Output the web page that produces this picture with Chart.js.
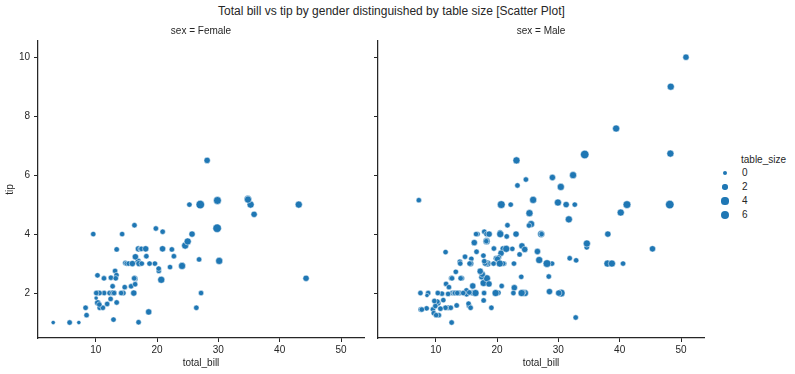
<!DOCTYPE html>
<html lang="en">

<head>
    <meta charset="UTF-8">
    <title>Total bill vs tip by gender</title>
    <script src="https://cdn.jsdelivr.net/npm/chart.js"></script>
    <style>
        body {
            margin: 0;
            background: #fff;
            font-family: "Liberation Sans", Arial, sans-serif;
            color: #262626;
        }

        #wrap {
            position: relative;
            width: 795px;
            height: 374px;
            overflow: hidden;
        }

        canvas {
            position: absolute;
            top: 0;
        }

        #suptitle {
            position: absolute;
            left: 218px;
            top: 4px;
            font-size: 12px;
            line-height: 14px;
            white-space: nowrap;
        }

        .legend-text {
            position: absolute;
            font-size: 10px;
            line-height: 12px;
            white-space: nowrap;
        }

        .legend-dot {
            position: absolute;
            border-radius: 50%;
            background: #1f77b4;
        }
    </style>
</head>

<body>
    <div id="wrap">
        <div id="suptitle">Total bill vs tip by gender distinguished by table size [Scatter Plot]</div>
        <canvas id="femaleChart" width="370" height="374" style="left:0px"></canvas>
        <canvas id="maleChart" width="370" height="374" style="left:340px"></canvas>
        <div id="legend"></div>
    </div>

    <script>
        // tips data, split by sex
        const femaleBill = [16.99, 24.59, 35.26, 14.83, 10.33, 16.97, 20.29, 15.77, 19.65, 15.06, 20.69, 16.93, 10.29, 34.81, 26.41, 16.45, 3.07, 17.07, 26.86, 25.28, 14.73, 10.07, 34.83, 5.75, 16.32, 22.75, 11.35, 15.38, 44.30, 22.42, 20.92, 14.31, 7.25, 25.71, 17.31, 10.65, 12.43, 24.08, 13.42, 12.48, 29.80, 14.52, 11.38, 20.27, 11.17, 12.26, 18.26, 8.51, 10.33, 14.15, 13.16, 17.47, 27.05, 16.43, 8.35, 18.64, 11.87, 29.85, 25.00, 13.39, 16.21, 17.51, 10.59, 10.63, 9.60, 20.90, 18.15, 19.81, 43.11, 13.00, 12.74, 13.00, 16.40, 16.47, 12.76, 13.27, 28.17, 12.90, 30.14, 13.42, 15.98, 16.27, 10.09, 22.12, 35.83, 27.18, 18.78];
        const femaleTip = [1.01, 3.61, 5.00, 3.02, 1.67, 3.50, 2.75, 2.23, 3.00, 3.00, 2.45, 3.07, 2.60, 5.20, 1.50, 2.47, 1.00, 3.00, 3.14, 5.00, 2.20, 1.83, 5.17, 1.00, 4.30, 3.25, 2.50, 3.00, 2.50, 3.48, 4.08, 4.00, 1.00, 4.00, 3.50, 1.50, 1.80, 2.92, 1.68, 2.52, 4.20, 2.00, 2.00, 2.83, 1.50, 2.00, 3.25, 1.25, 2.00, 2.00, 2.75, 3.50, 5.00, 2.30, 1.50, 1.36, 1.63, 5.14, 3.75, 2.61, 2.00, 3.00, 1.61, 2.00, 4.00, 3.50, 3.50, 4.19, 5.00, 2.00, 2.01, 2.00, 2.50, 3.23, 2.23, 2.50, 6.50, 1.10, 3.09, 3.48, 3.00, 2.50, 2.00, 2.88, 4.67, 2.00, 3.00];
        const femaleSize = [2, 4, 4, 2, 3, 3, 2, 2, 2, 2, 4, 3, 2, 4, 2, 2, 1, 3, 2, 2, 2, 1, 4, 2, 2, 2, 2, 2, 3, 2, 2, 2, 1, 3, 2, 2, 2, 4, 2, 2, 6, 2, 2, 2, 2, 2, 2, 2, 2, 2, 2, 2, 6, 2, 2, 3, 2, 5, 4, 2, 3, 2, 2, 2, 2, 3, 3, 2, 4, 2, 2, 2, 2, 3, 2, 2, 3, 2, 4, 2, 3, 2, 2, 2, 3, 2, 2];

        const maleBill = [10.34, 21.01, 23.68, 25.29, 8.77, 26.88, 15.04, 14.78, 10.27, 15.42, 18.43, 21.58, 16.29, 20.65, 17.92, 39.42, 19.82, 17.81, 13.37, 12.69, 21.70, 9.55, 18.35, 17.78, 24.06, 16.31, 18.69, 31.27, 16.04, 17.46, 13.94, 9.68, 30.40, 18.29, 22.23, 32.40, 28.55, 18.04, 12.54, 9.94, 25.56, 19.49, 38.01, 11.24, 48.27, 20.29, 13.81, 11.02, 18.29, 17.59, 20.08, 20.23, 15.01, 12.02, 10.51, 17.92, 27.20, 22.76, 17.29, 19.44, 16.66, 32.68, 15.98, 13.03, 18.28, 24.71, 21.16, 28.97, 22.49, 40.17, 27.28, 12.03, 21.01, 12.46, 15.36, 20.49, 25.21, 18.24, 14.00, 38.07, 23.95, 29.93, 11.69, 14.26, 15.95, 8.52, 22.82, 19.08, 16.00, 34.30, 41.19, 9.78, 7.51, 14.07, 13.13, 17.26, 24.55, 19.77, 48.17, 16.49, 21.50, 12.66, 13.81, 24.52, 20.76, 31.71, 50.81, 15.81, 7.25, 31.85, 16.82, 32.90, 17.89, 14.48, 34.63, 34.65, 23.33, 45.35, 23.17, 40.55, 20.69, 30.46, 23.10, 15.69, 28.44, 15.48, 16.58, 7.56, 10.34, 13.51, 18.71, 20.53, 26.59, 38.73, 24.27, 30.06, 25.89, 48.33, 28.15, 11.59, 7.74, 12.16, 8.58, 13.42, 20.45, 13.28, 24.01, 15.69, 11.61, 10.77, 15.53, 10.07, 12.60, 32.83, 29.03, 22.67, 17.82];
        const maleTip = [1.66, 3.50, 3.31, 4.71, 2.00, 3.12, 1.96, 3.23, 1.71, 1.57, 3.00, 3.92, 3.71, 3.35, 4.08, 7.58, 3.18, 2.34, 2.00, 2.00, 4.30, 1.45, 2.50, 3.27, 3.60, 2.00, 2.31, 5.00, 2.24, 2.54, 3.06, 1.32, 5.60, 3.00, 5.00, 6.00, 2.05, 3.00, 2.50, 1.56, 4.34, 3.51, 3.00, 1.76, 6.73, 3.21, 2.00, 1.98, 3.76, 2.64, 3.15, 2.01, 2.09, 1.97, 1.25, 3.08, 4.00, 3.00, 2.71, 3.00, 3.40, 5.00, 2.03, 2.00, 4.00, 5.85, 3.00, 3.00, 3.50, 4.73, 4.00, 1.50, 3.00, 1.50, 1.64, 4.06, 4.29, 3.76, 3.00, 4.00, 2.55, 5.07, 2.31, 2.50, 2.00, 1.48, 2.18, 1.50, 2.00, 6.70, 5.00, 1.73, 2.00, 2.50, 2.00, 2.74, 2.00, 2.00, 5.00, 2.00, 3.50, 2.50, 2.00, 3.48, 2.24, 4.50, 10.00, 3.16, 5.15, 3.18, 4.00, 3.11, 2.00, 2.00, 3.55, 3.68, 5.65, 3.50, 6.50, 3.00, 5.00, 2.00, 4.00, 1.50, 2.56, 2.02, 4.00, 1.44, 2.00, 2.00, 4.00, 4.00, 3.41, 3.00, 2.03, 2.00, 5.16, 9.00, 3.00, 1.50, 1.44, 2.20, 1.92, 1.58, 3.00, 2.72, 2.00, 3.00, 3.39, 1.47, 3.00, 1.25, 1.00, 1.17, 5.92, 2.00, 1.75];
        const maleSize = [3, 3, 2, 4, 2, 4, 2, 2, 2, 2, 4, 2, 3, 3, 2, 4, 2, 4, 2, 2, 2, 2, 4, 2, 3, 3, 3, 3, 3, 2, 2, 2, 4, 2, 2, 4, 3, 2, 2, 2, 4, 2, 4, 2, 4, 2, 2, 2, 4, 3, 3, 2, 2, 2, 2, 2, 4, 2, 2, 2, 2, 2, 2, 2, 2, 2, 2, 2, 2, 4, 2, 2, 2, 2, 2, 2, 2, 2, 2, 3, 2, 4, 2, 2, 2, 2, 3, 2, 2, 6, 5, 2, 2, 2, 2, 3, 4, 4, 6, 4, 4, 2, 2, 3, 2, 4, 3, 2, 2, 2, 2, 2, 2, 2, 2, 4, 2, 3, 4, 2, 5, 5, 3, 2, 2, 2, 2, 2, 2, 2, 3, 4, 3, 4, 2, 3, 4, 4, 5, 2, 2, 2, 1, 2, 4, 2, 4, 3, 2, 2, 2, 2, 2, 2, 3, 2, 2];

        const xTicks = [10, 20, 30, 40, 50];
        const yTicks = [2, 4, 6, 8, 10];
        const legendSizes = [0, 2, 4, 6];

        const xMin = 0.59, xMax = 53.75;
        const yMin = 0.475, yMax = 10.55;

        const pointColor = '#1f77b4';
        const textColor = '#262626';
        const fontFamily = '"Liberation Sans", Arial, sans-serif';

        // seaborn-like size mapping: marker area grows linearly with table size
        function markerRadius(size) {
            const s = Math.max(size, 1);
            const area = 18 + (s - 1) / 5 * 54;
            return Math.sqrt(area) / 2;
        }

        function toPoints(xs, ys) {
            return xs.map((x, i) => ({ x: x, y: ys[i] }));
        }

        function panelOptions(title, sizes, isFirst) {
            const font = { family: fontFamily, size: 10 };
            return {
                responsive: false,
                animation: false,
                layout: { padding: { top: 25, right: 6, bottom: 0, left: 0 } },
                elements: {
                    point: {
                        radius: ctx => markerRadius(sizes[ctx.dataIndex]),
                        backgroundColor: pointColor,
                        borderColor: '#ffffff',
                        borderWidth: 0.5
                    }
                },
                plugins: {
                    legend: { display: false },
                    tooltip: { enabled: false },
                    title: {
                        display: true,
                        text: title,
                        fullSize: false,
                        color: textColor,
                        font: { family: fontFamily, size: 10, weight: 'normal' },
                        padding: { top: 0, bottom: 4 }
                    }
                },
                scales: {
                    x: {
                        type: 'linear',
                        min: xMin,
                        max: xMax,
                        afterBuildTicks: s => { s.ticks = xTicks.map(v => ({ value: v })); },
                        afterFit: s => { s.height = 36; },
                        grid: { drawOnChartArea: false, drawTicks: true, tickLength: 4, tickColor: textColor, tickWidth: 1 },
                        border: { color: textColor, width: 1.25 },
                        ticks: { color: textColor, font: font, padding: 2, maxRotation: 0, autoSkip: false },
                        title: { display: true, text: 'total_bill', color: textColor, font: font, padding: { top: 0, bottom: 5 } }
                    },
                    y: {
                        type: 'linear',
                        min: yMin,
                        max: yMax,
                        afterBuildTicks: s => { s.ticks = yTicks.map(v => ({ value: v })); },
                        afterFit: s => { s.width = 38; },
                        grid: { drawOnChartArea: false, drawTicks: true, tickLength: 4, tickColor: textColor, tickWidth: 1 },
                        border: { color: textColor, width: 1.25 },
                        ticks: {
                            color: textColor, font: font, padding: 4, autoSkip: false,
                            callback: v => isFirst ? String(v) : ''
                        },
                        title: { display: isFirst, text: 'tip', color: textColor, font: font, padding: { top: 4, bottom: 0 } }
                    }
                }
            };
        }

        new Chart(document.getElementById('femaleChart'), {
            type: 'scatter',
            data: { datasets: [{ data: toPoints(femaleBill, femaleTip) }] },
            options: panelOptions('sex = Female', femaleSize, true)
        });

        new Chart(document.getElementById('maleChart'), {
            type: 'scatter',
            data: { datasets: [{ data: toPoints(maleBill, maleTip) }] },
            options: panelOptions('sex = Male', maleSize, false)
        });

        // size legend
        const legend = document.getElementById('legend');
        const head = document.createElement('div');
        head.className = 'legend-text';
        head.style.left = '741px';
        head.style.top = '154px';
        head.textContent = 'table_size';
        legend.appendChild(head);
        legendSizes.forEach((s, i) => {
            const cy = 173 + i * 14;
            const r = markerRadius(s);
            const dot = document.createElement('div');
            dot.className = 'legend-dot';
            dot.style.width = (2 * r) + 'px';
            dot.style.height = (2 * r) + 'px';
            dot.style.left = (725 - r) + 'px';
            dot.style.top = (cy - r) + 'px';
            legend.appendChild(dot);
            const label = document.createElement('div');
            label.className = 'legend-text';
            label.style.left = '742px';
            label.style.top = (cy - 6) + 'px';
            label.textContent = String(s);
            legend.appendChild(label);
        });
    </script>
</body>

</html>
